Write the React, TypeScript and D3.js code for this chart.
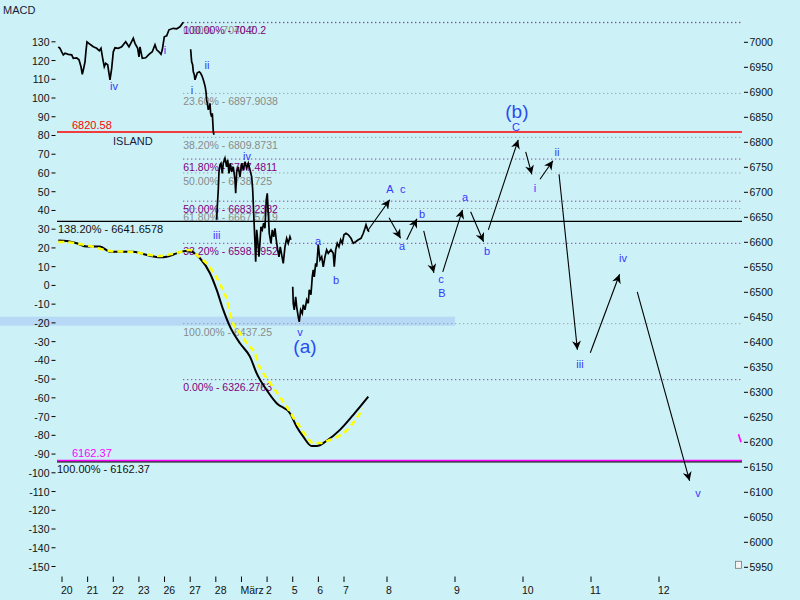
import React from 'react';
import * as d3 from 'd3';

// ---------- DATA ----------
const dayLabels = ["20", "21", "22", "23", "26", "27", "28", "März", "2", "5", "6", "7", "8", "9", "10", "11", "12"];
const macdTicks = d3.range(-150, 131, 10);
const priceTicks = d3.range(5950, 7001, 50);

// intraday price, [day index, price]
const priceSeg1: [number, number][] = [
  [-0.144, 6991], [-0.078, 6988], [-0.012, 6981], [0.051, 6975], [0.117, 6978], [0.246, 6976], [0.378, 6975],
  [0.441, 6968], [0.573, 6969], [0.663, 6965], [0.741, 6951], [0.792, 6936], [0.846, 6948], [0.897, 6961],
  [0.936, 6983], [0.975, 7001], [1.092, 6996], [1.221, 6991], [1.353, 6988], [1.455, 6983], [1.521, 6988],
  [1.587, 6968], [1.65, 6951], [1.704, 6958], [1.782, 6955], [1.833, 6938], [1.872, 6925], [1.938, 6948],
  [2.001, 6981], [2.067, 6989], [2.196, 6988], [2.328, 6991], [2.484, 7001], [2.613, 6991], [2.781, 7008],
  [2.847, 6998], [2.952, 6988], [3.003, 6971], [3.042, 6991], [3.132, 6968], [3.264, 6969], [3.393, 6976],
  [3.522, 6981], [3.627, 6995], [3.694, 6985], [3.783, 6981], [3.861, 6976], [3.912, 6985], [3.99, 7011],
  [4.083, 7013], [4.173, 7025], [4.341, 7028], [4.473, 7027], [4.602, 7031], [4.731, 7040],
];
const priceSeg2: [number, number][] = [
  [5.018, 6986], [5.057, 6961], [5.096, 6955], [5.122, 6941], [5.161, 6935], [5.187, 6925], [5.226, 6931],
  [5.278, 6939], [5.356, 6941], [5.408, 6938], [5.46, 6933], [5.512, 6925], [5.551, 6918], [5.59, 6910],
  [5.616, 6901], [5.642, 6885], [5.668, 6878], [5.707, 6865], [5.746, 6871], [5.772, 6878], [5.798, 6858],
  [5.837, 6851], [5.863, 6858], [5.902, 6821], [5.928, 6815],
];
const priceSeg3: [number, number][] = [
  [6.034, 6645], [6.057, 6671], [6.096, 6705], [6.123, 6741], [6.162, 6755], [6.201, 6758], [6.252, 6738],
  [6.291, 6758], [6.357, 6768], [6.423, 6751], [6.463, 6765], [6.513, 6738], [6.564, 6758], [6.619, 6741],
  [6.681, 6751], [6.747, 6725], [6.775, 6698], [6.814, 6741], [6.876, 6751], [6.942, 6731], [7.009, 6758],
  [7.071, 6745], [7.137, 6761], [7.204, 6748], [7.266, 6758], [7.332, 6745], [7.399, 6731], [7.438, 6705],
  [7.488, 6645], [7.527, 6598], [7.555, 6561], [7.594, 6625], [7.633, 6605], [7.683, 6571], [7.711, 6591],
  [7.761, 6631], [7.812, 6625], [7.867, 6638], [7.917, 6628], [7.968, 6685], [8.007, 6698], [8.046, 6658],
  [8.085, 6618], [8.151, 6598], [8.202, 6625], [8.257, 6611], [8.307, 6628], [8.358, 6605], [8.413, 6585],
  [8.463, 6571], [8.514, 6591], [8.569, 6575], [8.631, 6558], [8.697, 6591], [8.764, 6608], [8.826, 6598],
  [8.892, 6611], [8.93, 6605],
];
const priceSeg4: [number, number][] = [
  [9.0, 6511], [9.021, 6478], [9.06, 6465], [9.115, 6491], [9.154, 6471], [9.216, 6451], [9.255, 6441],
  [9.31, 6465], [9.372, 6458], [9.411, 6475], [9.477, 6465], [9.544, 6485], [9.606, 6478], [9.645, 6505],
  [9.711, 6495], [9.762, 6531], [9.801, 6545], [9.84, 6531], [9.895, 6558], [9.934, 6551], [9.973, 6578],
  [9.996, 6595], [10.062, 6565], [10.129, 6571], [10.191, 6551], [10.257, 6571], [10.324, 6585], [10.386, 6578],
  [10.491, 6585], [10.581, 6578], [10.62, 6551], [10.675, 6585], [10.737, 6598], [10.803, 6591], [10.87, 6605],
  [10.932, 6598], [10.998, 6615], [11.047, 6618], [11.1, 6615], [11.163, 6608], [11.216, 6598], [11.272, 6601],
  [11.333, 6605], [11.395, 6608], [11.449, 6618], [11.488, 6628], [11.512, 6635], [11.551, 6625], [11.581, 6621],
];

// MACD line and signal line, [day index, value]
const macdLine: [number, number][] = [
  [-0.144, 23.9], [0.183, 23.7], [0.573, 22.5], [0.963, 20.7], [1.482, 20.7], [1.872, 18.0], [2.769, 18.0],
  [3.159, 16.8], [3.822, 15.0], [4.083, 15.3], [4.473, 17.1], [4.797, 18.4], [5.058, 18.0], [5.382, 14.5],
  [5.772, 6.5], [6.034, -2.4], [6.291, -13.1], [6.552, -22.0], [6.942, -30.9], [7.332, -38.0], [7.594, -46.9],
  [7.983, -55.8], [8.374, -62.9], [8.892, -68.2], [9.154, -75.4], [9.411, -80.7], [9.739, -85.7],
  [9.934, -85.7], [10.324, -82.9], [10.842, -77.1], [11.216, -69.1], [11.565, -59.4],
];
const signalLine: [number, number][] = [
  [-0.144, 23.2], [0.312, 22.9], [1.092, 21.0], [1.872, 18.4], [2.769, 17.8], [3.822, 15.7], [4.446, 17.3],
  [4.992, 18.9], [5.265, 16.2], [5.499, 13.6], [5.694, 10.9], [5.889, 7.2], [6.084, 2.9], [6.24, -1.4],
  [6.435, -7.8], [6.552, -14.7], [6.669, -20.1], [6.942, -25.4], [7.254, -31.8], [7.527, -36.1], [7.644, -41.4],
  [7.839, -46.7], [8.034, -50.5], [8.229, -54.2], [8.502, -59.5], [8.775, -64.9], [9.009, -70.2], [9.282, -75.6],
  [9.555, -80.9], [9.789, -84.1], [10.062, -84.1], [10.452, -82.5], [10.725, -80.9], [11.07, -77.2],
  [11.209, -73.4], [11.442, -65.9],
];

// Fibonacci levels
const grayFibs = [
  { pct: "0.00%", value: 7040.2, text: "7040.2" },
  { pct: "23.60%", value: 6897.9038, text: "6897.9038" },
  { pct: "38.20%", value: 6809.8731, text: "6809.8731" },
  { pct: "50.00%", value: 6738.725, text: "6738.725" },
  { pct: "61.80%", value: 6667.5719, text: "6667.5719" },
  { pct: "100.00%", value: 6437.25, text: "6437.25" },
];
const purpleFibs = [
  { pct: "100.00%", value: 7040.2, text: "7040.2" },
  { pct: "61.80%", value: 6767.4811, text: "6767.4811" },
  { pct: "50.00%", value: 6683.2382, text: "6683.2382" },
  { pct: "38.20%", value: 6598.9952, text: "6598.9952" },
  { pct: "0.00%", value: 6326.2763, text: "6326.2763" },
];
const fibStartDay = 4.73;

const islandLevel = 6820.58;
const extLevel = 6641.6578;
const targetLevel = 6162.37;
const macdBand = [-16.7, -21.5];
const bandEndDay = 13;

// projected wave arrows [day0, price0, day1, price1]
const arrows: [number, number, number, number][] = [
  [11.55, 6623, 12.04, 6685],
  [12.03, 6649, 12.2, 6608],
  [12.29, 6605, 12.44, 6647],
  [12.54, 6623, 12.69, 6539],
  [12.82, 6541, 13.11, 6665],
  [13.23, 6661, 13.42, 6601],
  [13.49, 6625, 13.93, 6805],
  [14.04, 6781, 14.13, 6736],
  [14.25, 6726, 14.44, 6763],
  [14.53, 6736, 14.8, 6385],
  [14.99, 6379, 15.42, 6536],
  [15.68, 6501, 16.45, 6123],
];

// wave labels [text, day, price]
const waveLabels: [string, number, number][] = [
  ["iv", 2.028, 6904], ["i", 4.017, 6976], ["ii", 5.655, 6946], ["i", 5.07, 6896], ["iii", 6.034, 6606],
  ["iv", 7.215, 6764], ["a", 9.984, 6594], ["b", 10.686, 6516], ["v", 9.282, 6412],
  ["A", 12.044, 6698], ["c", 12.23, 6698], ["a", 12.22, 6584], ["b", 12.515, 6648], ["c", 12.794, 6518],
  ["B", 12.809, 6490], ["a", 13.147, 6682], ["b", 13.47, 6574], ["C", 13.897, 6822], ["i", 14.176, 6700],
  ["ii", 14.5, 6772], ["iii", 14.838, 6348], ["iv", 15.47, 6560], ["v", 16.574, 6090],
];
const bigLabels: [string, number, number][] = [
  ["(a)", 9.477, 6378],
  ["(b)", 13.91, 6848],
];

// ---------- CHART ----------
const W = 800, H = 600;
const plotLeft = 57, plotRight = 742;
const FONT = "'Liberation Sans', Arial, sans-serif";

export default function App() {
  const x = d3.scaleLinear().domain([0, 11, 12, 13, 14, 15, 16]).range([62, 344, 387, 455, 523, 591, 659]);
  const yP = d3.scaleLinear().domain([5950, 7000]).range([567.3, 42.3]);
  const yM = d3.scaleLinear().domain([-150, 130]).range([566.5, 41.8]);

  const priceLine = d3.line<[number, number]>().x(d => x(d[0])).y(d => yP(d[1]));
  const macdGen = d3.line<[number, number]>().x(d => x(d[0])).y(d => yM(d[1])).curve(d3.curveMonotoneX);

  const fibX = x(fibStartDay);
  const blue = "#3636ff";

  return (
    <svg width={W} height={H} style={{ position: 'absolute', left: 0, top: 0, display: 'block' }} fontFamily={FONT}>
      <defs>
        <marker id="ah" viewBox="0 0 10 10" refX="10" refY="5" markerWidth="11" markerHeight="9"
          markerUnits="userSpaceOnUse" orient="auto">
          <path d="M0,0 L10,5 L0,10 L3,5 Z" fill="#000" />
        </marker>
      </defs>
      <rect x={0} y={0} width={W} height={H} fill="#ccf2f7" />

      {/* band */}
      <rect x={0} y={yM(macdBand[0])} width={x(bandEndDay)} height={yM(macdBand[1]) - yM(macdBand[0])} fill="#b7d9f5" />

      {/* fib dotted lines */}
      {grayFibs.map((f, i) => (
        <line key={'gl' + i} x1={fibX} x2={plotRight} y1={yP(f.value)} y2={yP(f.value)} stroke="#8a8a8a" strokeWidth={1} strokeDasharray="1,3" />
      ))}
      {purpleFibs.map((f, i) => (
        <line key={'pl' + i} x1={fibX} x2={plotRight} y1={yP(f.value) + 0.5} y2={yP(f.value) + 0.5} stroke="#800080" strokeWidth={1} strokeDasharray="1,3" />
      ))}

      {/* solid levels */}
      <line x1={plotLeft} x2={plotRight} y1={yP(islandLevel)} y2={yP(islandLevel)} stroke="#ff0000" strokeWidth={1.5} />
      <line x1={plotLeft} x2={plotRight} y1={yP(extLevel)} y2={yP(extLevel)} stroke="#000" strokeWidth={1.2} />
      <line x1={plotLeft} x2={plotRight} y1={yP(targetLevel) + 0.8} y2={yP(targetLevel) + 0.8} stroke="#000" strokeWidth={1.3} />
      <line x1={plotLeft} x2={plotRight} y1={yP(targetLevel) - 0.6} y2={yP(targetLevel) - 0.6} stroke="#ff00ff" strokeWidth={1.3} />

      {/* fib labels */}
      {grayFibs.map((f, i) => (
        <text key={'gt' + i} x={fibX} y={yP(f.value) + 12} fontSize={10.5} fill="#8a8a8a">{`${f.pct} - ${f.text}`}</text>
      ))}
      {purpleFibs.map((f, i) => (
        <text key={'pt' + i} x={fibX} y={yP(f.value) + 12} fontSize={10.5} fill="#800080">{`${f.pct} - ${f.text}`}</text>
      ))}
      <text x={plotLeft + 15} y={yP(islandLevel) - 3} fontSize={11} fill="#ff0000">{islandLevel.toFixed(2)}</text>
      <text x={113} y={yP(islandLevel) + 13} fontSize={11} fill="#1a1a3a">ISLAND</text>
      <text x={plotLeft + 1} y={yP(extLevel) + 12} fontSize={11} fill="#111">{`138.20% - ${extLevel}`}</text>
      <text x={plotLeft + 15} y={yP(targetLevel) - 4} fontSize={11} fill="#ff00ff">{targetLevel.toFixed(2)}</text>
      <text x={plotLeft} y={yP(targetLevel) + 12} fontSize={11} fill="#111">{`100.00% - ${targetLevel}`}</text>

      {/* MACD */}
      <path d={macdGen(macdLine) || ''} fill="none" stroke="#000" strokeWidth={2} />
      <path d={macdGen(signalLine) || ''} fill="none" stroke="#ffff00" strokeWidth={2.5} strokeDasharray="6,4" />

      {/* price */}
      {[priceSeg1, priceSeg2, priceSeg3, priceSeg4].map((seg, i) => (
        <path key={'ps' + i} d={priceLine(seg) || ''} fill="none" stroke="#000" strokeWidth={1.7} strokeLinejoin="miter" />
      ))}

      {/* arrows */}
      {arrows.map((a, i) => (
        <line key={'ar' + i} x1={x(a[0])} y1={yP(a[1])} x2={x(a[2])} y2={yP(a[3])} stroke="#000" strokeWidth={1.1} markerEnd="url(#ah)" />
      ))}

      {/* wave labels */}
      {waveLabels.map((l, i) => (
        <text key={'wl' + i} x={x(l[1])} y={yP(l[2])} fontSize={11} fill={blue} textAnchor="middle">{l[0]}</text>
      ))}
      {bigLabels.map((l, i) => (
        <text key={'bl' + i} x={x(l[1])} y={yP(l[2])} fontSize={19} fill="#2a4cf0" textAnchor="middle">{l[0]}</text>
      ))}

      {/* small marks at right edge */}
      <line x1={plotRight - 3.5} y1={yP(6216)} x2={plotRight - 1} y2={yP(6200)} stroke="#ff00ff" strokeWidth={1.6} />
      <rect x={735.5} y={yP(5962)} width={6} height={7} fill="#f4f4f4" stroke="#777" strokeWidth={0.8} />

      {/* left axis */}
      <text x={3} y={14} fontSize={11} fill="#1a1a3a">MACD</text>
      {macdTicks.map(v => (
        <g key={'lm' + v}>
          <line x1={51.5} x2={55.5} y1={yM(v)} y2={yM(v)} stroke="#000" strokeWidth={1} />
          <text x={49.5} y={yM(v) + 4} fontSize={10.5} fill="#111" textAnchor="end">{v}</text>
        </g>
      ))}

      {/* right axis */}
      {priceTicks.map(v => (
        <g key={'rp' + v}>
          <line x1={744} x2={748} y1={yP(v)} y2={yP(v)} stroke="#000" strokeWidth={1} />
          <text x={749.5} y={yP(v) + 4} fontSize={10.5} fill="#111">{v}</text>
        </g>
      ))}

      {/* bottom axis */}
      {dayLabels.map((d, i) => (
        <g key={'bx' + i}>
          <line x1={x(i)} x2={x(i)} y1={576.5} y2={582} stroke="#000" strokeWidth={1} />
          <text x={x(i) - 1} y={594} fontSize={10.5} fill="#111">{d}</text>
        </g>
      ))}
    </svg>
  );
}
